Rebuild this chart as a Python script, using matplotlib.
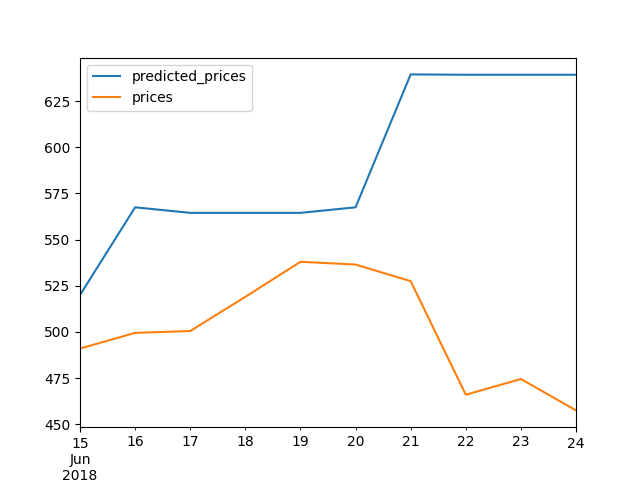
import pandas as pd
import matplotlib
matplotlib.use("Agg")
import matplotlib.pyplot as plt

dates = pd.date_range("2018-06-15", "2018-06-24", freq="D")
predicted_prices = [520, 567.5, 564.5, 564.5, 564.5, 567.5, 639.5, 639.3, 639.3, 639.3]
prices = [491, 499.5, 500.5, 519, 538, 536.5, 527.5, 466, 474.5, 457.5]

df = pd.DataFrame({"predicted_prices": predicted_prices, "prices": prices}, index=dates)

fig, ax = plt.subplots(figsize=(6.4, 4.8), dpi=100)
df.plot(ax=ax, x_compat=False)
ax.margins(x=0.05)
ax.autoscale_view()
fig.savefig("out.png")
